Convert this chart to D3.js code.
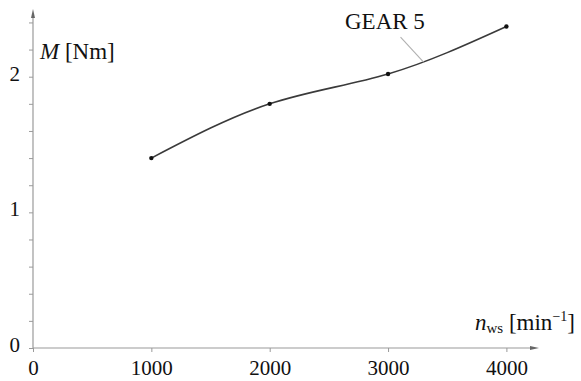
<!DOCTYPE html>
<html>
<head>
<meta charset="utf-8">
<script src="https://cdn.jsdelivr.net/npm/d3@7/dist/d3.min.js"></script>
<style>
  html, body { margin: 0; padding: 0; background: #fff; }
  svg { display: block; }
  svg text { font-family: "Times New Roman", "Liberation Serif", Times, serif; }
</style>
</head>
<body>
<svg id="chart" width="581" height="381"></svg>
<script>
// Engine speed (min^-1) and measured torque (Nm) in gear 5
const speeds = [1000, 2000, 3000, 4000];
const torque = [1.40, 1.80, 2.02, 2.37];
const xTickValues = [0, 1000, 2000, 3000, 4000];
const yTickLabels = [0, 1, 2];
const yMinorStep = 0.2;
const seriesName = "GEAR 5";
const labelAnchorSpeed = 3300;

const svg = d3.select("#chart");
const ox = 33, oy = 348;

const x = d3.scaleLinear().domain([0, 4000]).range([ox, ox + 473.4]);
const y = d3.scaleLinear().domain([0, 2]).range([oy, oy - 271.3]);

const axisColor = "#9a9a9a";

// axis lines with arrowheads
svg.append("line").attr("x1", ox).attr("y1", oy).attr("x2", 534).attr("y2", oy)
  .attr("stroke", axisColor).attr("stroke-width", 1.2);
svg.append("path").attr("d", `M539,${oy} L530,${oy - 2} L530,${oy + 2} Z`).attr("fill", "#666");
svg.append("line").attr("x1", ox).attr("y1", oy).attr("x2", ox).attr("y2", 14)
  .attr("stroke", axisColor).attr("stroke-width", 1.2);
svg.append("path").attr("d", `M${ox},9 L${ox - 2},18 L${ox + 2},18 Z`).attr("fill", "#666");

// x ticks and labels
const xAxis = d3.axisBottom(x).tickValues(xTickValues).tickSize(4).tickSizeOuter(0).tickPadding(8)
  .tickFormat(d3.format("d"));
const gx = svg.append("g").attr("transform", `translate(0,${oy})`).call(xAxis)
  .attr("font-family", null).attr("font-size", null);
gx.select(".domain").remove();
gx.selectAll(".tick line").attr("stroke", axisColor);
gx.selectAll(".tick text").attr("font-size", 21).attr("fill", "#111");

// y minor ticks every 0.2 and integer labels
const yMinor = d3.range(0, 2.41, yMinorStep).map(v => +v.toFixed(1));
const yAxis = d3.axisLeft(y).tickValues(yMinor).tickSize(4).tickSizeOuter(0)
  .tickFormat(() => "");
const gy = svg.append("g").attr("transform", `translate(${ox},0)`).call(yAxis);
gy.select(".domain").remove();
gy.selectAll(".tick line").attr("stroke", axisColor);
svg.append("g").selectAll("text").data(yTickLabels).join("text")
  .attr("x", 20).attr("y", d => y(d) + 4)
  .attr("text-anchor", "end").attr("font-size", 21).attr("fill", "#111")
  .text(d => d);

// axis titles
const yTitle = svg.append("text").attr("x", 40).attr("y", 59).attr("font-size", 23).attr("fill", "#111");
yTitle.append("tspan").attr("font-style", "italic").text("M");
yTitle.append("tspan").text(" [Nm]");

const xTitle = svg.append("text").attr("x", 475).attr("y", 330).attr("font-size", 23).attr("fill", "#111");
xTitle.append("tspan").attr("font-style", "italic").text("n");
xTitle.append("tspan").attr("font-size", 15).attr("dy", 3).text("ws");
xTitle.append("tspan").attr("dy", -3).text(" [min");
xTitle.append("tspan").attr("font-size", 14).attr("dy", -9).text("\u22121");
xTitle.append("tspan").attr("dy", 9).text("]");

// torque curve
const pts = speeds.map((s, i) => [s, torque[i]]);
const line = d3.line().x(d => x(d[0])).y(d => y(d[1])).curve(d3.curveNatural);
const curve = svg.append("path").datum(pts).attr("d", line)
  .attr("fill", "none").attr("stroke", "#3a3a3a").attr("stroke-width", 1.6);

svg.append("g").selectAll("circle").data(pts).join("circle")
  .attr("cx", d => x(d[0])).attr("cy", d => y(d[1])).attr("r", 2.2).attr("fill", "#111");

// series label with leader line to the curve
const node = curve.node();
const total = node.getTotalLength();
const targetX = x(labelAnchorSpeed);
let lo = 0, hi = total;
for (let k = 0; k < 40; k++) {
  const mid = (lo + hi) / 2;
  if (node.getPointAtLength(mid).x < targetX) lo = mid; else hi = mid;
}
const anchor = node.getPointAtLength(lo);
svg.append("line").attr("x1", anchor.x - 23).attr("y1", anchor.y - 25)
  .attr("x2", anchor.x).attr("y2", anchor.y)
  .attr("stroke", "#b0b0b0").attr("stroke-width", 1.1);
svg.append("text").attr("x", 345).attr("y", 29).attr("font-size", 23).attr("fill", "#111")
  .text(seriesName);
</script>
</body>
</html>
